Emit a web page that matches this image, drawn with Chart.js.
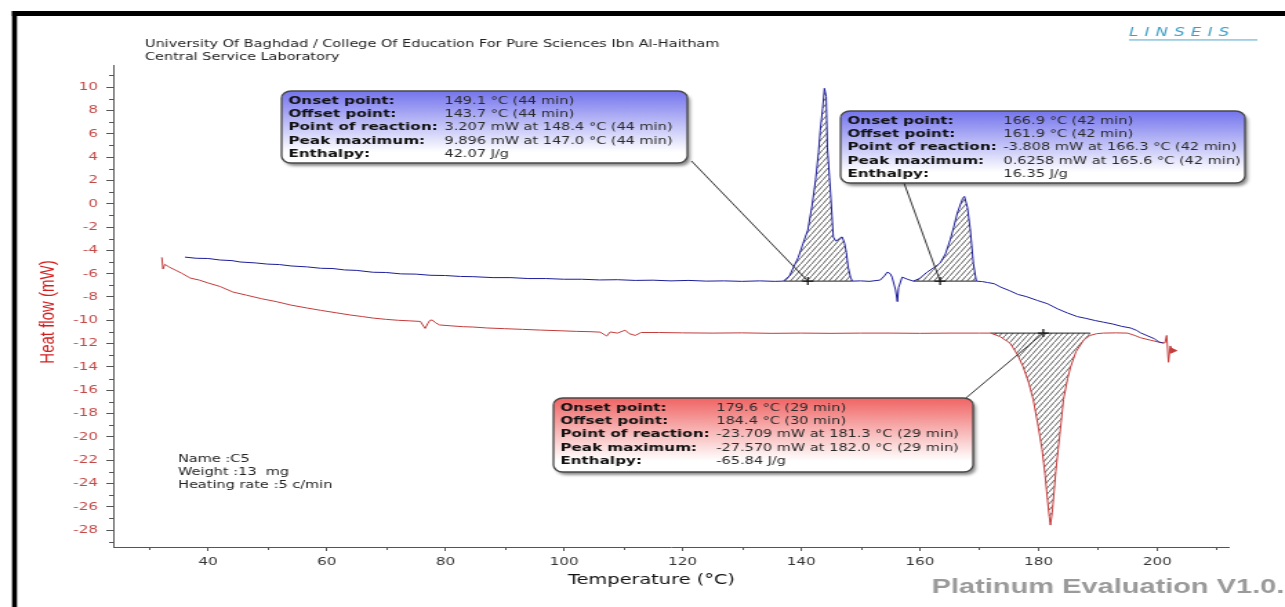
<!DOCTYPE html>
<html>
<head>
<meta charset="utf-8">
<title>DSC - C5</title>
<script src="https://cdn.jsdelivr.net/npm/chart.js@4.4.1/dist/chart.umd.min.js"></script>
<style>
  html, body { margin: 0; padding: 0; background: #fff; overflow: hidden; }
  /* report is laid out at 931px and stretched to the 1285px page width */
  #frame { width: 931px; height: 607px; transform: scaleX(1.3802); transform-origin: 0 0; }
  canvas { display: block; }
</style>
</head>
<body>
<div id="frame"><canvas id="dsc" width="931" height="607"></canvas></div>
<script>
// axis ticks
const xTicks = [40, 60, 80, 100, 120, 140, 160, 180, 200];
const xMinorTicks = [30, 50, 70, 90, 110, 130, 150, 170, 190, 210];
const yTicks = [10, 8, 6, 4, 2, 0, -2, -4, -6, -8, -10, -12, -14, -16, -18, -20, -22, -24, -26, -28];
const yMinorTicks = [11, 9, 7, 5, 3, 1, -1, -3, -5, -7, -9, -11, -13, -15, -17, -19, -21, -23, -25, -27, -29];

// blue run: temperature (°C) / heat flow (mW)
const blueTemp = [
  36.1, 38, 40, 42, 44, 45.4, 48, 50, 52, 54, 56.7, 59, 61, 63, 65, 67.8, 70, 72.5, 75, 77.5,
  80, 82.5, 84.7, 88, 91, 94, 97, 100, 103, 106, 109, 112, 115, 118, 121, 124, 127, 130, 133, 135.5,
  137.0, 138.0, 138.7, 139.5, 140.3, 141.1, 141.8, 142.4, 142.9, 143.2, 143.6, 143.9, 144.2, 144.4, 144.9, 145.4, 145.8, 146.2, 146.6, 146.9,
  147.3, 147.6, 147.9, 148.3, 148.6, 150, 151.5, 153.3, 154.0, 154.5, 155.0, 155.3, 155.9, 156.2, 156.4, 157.0, 158.0, 158.9,
  160.0, 161.2, 162.3, 163.4, 164.3, 165.1, 165.7, 166.3, 167.2, 167.5, 168.0, 168.5, 169.0, 169.5,
  170.5, 171.4, 172.5, 173.6, 175.2, 176.5, 178, 179.8, 181.5, 183.2, 184.9, 186.5, 188, 189.5, 190.9, 192.5,
  194, 195.5, 196.5, 197.2, 198.5, 199.5, 200.3, 201.0
];
const blueFlow = [
  -4.58, -4.68, -4.70, -4.83, -4.88, -5.00, -5.08, -5.18, -5.22, -5.34, -5.42, -5.54, -5.56, -5.68, -5.72, -5.88, -5.90, -6.02, -6.04, -6.14,
  -6.16, -6.24, -6.26, -6.34, -6.34, -6.42, -6.42, -6.48, -6.48, -6.54, -6.52, -6.58, -6.56, -6.62, -6.58, -6.64, -6.62, -6.66, -6.62, -6.66,
  -6.64, -6.2, -5.44, -4.6, -3.4, -2.26, -0.2, 2.0, 4.4, 6.3, 8.2, 9.896, 9.2, 4.85, 1.17, -2.86, -3.2, -3.1, -2.9, -2.86,
  -3.4, -4.2, -5.44, -6.3, -6.64, -6.62, -6.66, -6.55, -6.2, -5.87, -6.0, -6.3, -7.4, -8.4, -7.2, -6.3, -6.5, -6.64,
  -6.4, -5.87, -5.5, -5.1, -4.3, -3.1, -2.0, -0.8, 0.45, 0.6258, -0.3, -2.26, -5.1, -6.64,
  -6.68, -6.76, -6.86, -7.15, -7.48, -7.78, -7.98, -8.30, -8.58, -9.02, -9.38, -9.68, -9.84, -10.02, -10.16, -10.32,
  -10.52, -10.66, -10.86, -11.08, -11.36, -11.58, -11.86, -11.96
];

// red run: temperature (°C) / heat flow (mW)
const redTemp = [
  32.2, 32.4, 32.7, 33.5, 34.5, 35.5, 37.0, 38.5, 40, 42, 44.2, 46.5, 49, 51.5, 54, 56.7, 59, 61.5, 64, 66,
  67.8, 70, 72, 74, 75.8, 76.3, 76.6, 77.0, 77.4, 77.8, 78.3, 79, 81, 83, 84.7, 87, 90, 93, 96, 99.4,
  102, 104.5, 106.1, 107.2, 107.8, 109, 110.3, 111, 112, 113, 116, 120, 125, 130, 135, 140, 145, 150, 155, 160,
  165, 170, 171.9, 173.5, 175.2, 176.5, 177.4, 178.3, 179.1, 179.9, 180.6, 181.1, 181.5, 181.8, 182.0, 182.3, 182.5, 182.9, 183.3, 183.8,
  184.2, 184.9, 185.4, 186.3, 187.6, 188.7, 189.8, 190.9, 193, 195.0, 196.2, 197.2, 198.8, 200.5, 201.3, 201.6, 201.9, 202.2, 202.6
];
const redFlow = [
  -4.6, -5.6, -5.2, -5.45, -5.7, -5.95, -6.38, -6.55, -6.8, -7.1, -7.58, -7.85, -8.15, -8.4, -8.7, -8.95, -9.15, -9.35, -9.55, -9.68,
  -9.81, -9.92, -10.0, -10.05, -10.1, -10.5, -10.7, -10.3, -10.0, -9.98, -10.2, -10.4, -10.48, -10.55, -10.58, -10.66, -10.72, -10.78, -10.84, -10.9,
  -10.95, -10.98, -11.02, -11.35, -11.0, -11.1, -10.85, -11.15, -11.3, -11.05, -11.05, -11.08, -11.1, -11.08, -11.12, -11.1, -11.12, -11.1, -11.1, -11.12,
  -11.1, -11.1, -11.1, -11.4, -11.96, -13.0, -14.0, -15.3, -16.8, -19.0, -21.1, -23.3, -25.4, -26.8, -27.57, -26.5, -25.4, -23.0, -21.1, -18.8,
  -16.8, -15.0, -14.0, -12.7, -11.7, -11.3, -11.15, -11.1, -11.08, -11.1, -11.3, -11.5, -11.7, -11.9, -11.95, -11.3, -13.6, -12.2, -12.6
];

// integrated peaks: [from, to] in °C and the baseline they are integrated against (mW)
const bluePeaks = [[137.0, 148.6], [158.9, 169.5]];
const blueBase = -6.64;
const redPeaks = [[171.9, 188.7]];
const redBase = -11.1;

// reaction markers on the baselines
const markerTemp = [141.1, 163.4, 180.8];
const markerFlow = [blueBase, blueBase, redBase];

// evaluation results
const peakFields = ['Onset point:', 'Offset point:', 'Point of reaction:', 'Peak maximum:', 'Enthalpy:'];
const peak1Text = ['149.1 °C (44 min)', '143.7 °C (44 min)', '3.207 mW at 148.4 °C (44 min)', '9.896 mW at 147.0 °C (44 min)', '42.07 J/g'];
const peak2Text = ['166.9 °C (42 min)', '161.9 °C (42 min)', '-3.808 mW at 166.3 °C (42 min)', '0.6258 mW at 165.6 °C (42 min)', '16.35 J/g'];
const peak3Text = ['179.6 °C (29 min)', '184.4 °C (30 min)', '-23.709 mW at 181.3 °C (29 min)', '-27.570 mW at 182.0 °C (29 min)', '-65.84 J/g'];

const headerLines = ['University Of Baghdad / College Of Education For Pure Sciences Ibn Al-Haitham', 'Central Service Laboratory'];
const sampleLines = ['Name :C5', 'Weight :13  mg', 'Heating rate :5 c/min'];

const BLUE = '#1c1c9a';
const RED = '#c43a3a';

const canvas = document.getElementById('dsc');
const ctx = canvas.getContext('2d');

function toPoints(xs, ys) {
  return xs.map((x, i) => ({ x: x, y: ys[i] }));
}

function slice(xs, ys, from, to) {
  return toPoints(xs, ys).filter(p => p.x >= from && p.x <= to);
}

// diagonal hatching used inside the integrated areas
function makeHatch() {
  const c = document.createElement('canvas');
  c.width = 4;
  c.height = 6;
  const g = c.getContext('2d');
  g.strokeStyle = '#3a3a3a';
  g.lineWidth = 0.8;
  g.beginPath();
  g.moveTo(-1, 7.5);
  g.lineTo(5, -1.5);
  g.stroke();
  return ctx.createPattern(c, 'repeat');
}
const hatch = makeHatch();

const datasets = [
  {
    label: 'markers',
    data: toPoints(markerTemp, markerFlow),
    showLine: false,
    pointStyle: 'cross',
    pointRadius: 4,
    pointBorderColor: '#111',
    pointBorderWidth: 1.2,
    order: 0
  },
  {
    label: 'C5 blue',
    data: toPoints(blueTemp, blueFlow),
    borderColor: BLUE,
    borderWidth: 1,
    pointRadius: 0,
    fill: false,
    order: 1
  },
  {
    label: 'C5 red',
    data: toPoints(redTemp, redFlow),
    borderColor: RED,
    borderWidth: 1,
    pointRadius: c => (c.dataIndex === redTemp.length - 1 ? 3 : 0),
    pointStyle: 'triangle',
    rotation: 90,
    pointBackgroundColor: RED,
    pointBorderColor: RED,
    fill: false,
    order: 1
  }
];

bluePeaks.concat(redPeaks).forEach((r, i) => {
  const isBlue = i < bluePeaks.length;
  const base = isBlue ? blueBase : redBase;
  datasets.push({
    label: 'area ' + (i + 1),
    data: isBlue ? slice(blueTemp, blueFlow, r[0], r[1]) : slice(redTemp, redFlow, r[0], r[1]),
    borderWidth: 0,
    borderColor: 'transparent',
    pointRadius: 0,
    backgroundColor: hatch,
    fill: { value: base },
    order: 3
  });
  datasets.push({
    label: 'baseline ' + (i + 1),
    data: [{ x: r[0], y: base }, { x: r[1], y: base }],
    borderColor: '#222',
    borderWidth: 1,
    pointRadius: 0,
    fill: false,
    order: 2
  });
});

// result boxes, placed in report coordinates
const boxes = [
  { x: 204, y: 91, w: 294, h: 72, ax: 501, ay: 161, marker: 0, top: '#7474ee', text: peak1Text },
  { x: 609, y: 111, w: 293, h: 72, ax: 655, ay: 183, marker: 1, top: '#7474ee', text: peak2Text },
  { x: 401, y: 398, w: 304, h: 74, ax: 699, ay: 399, marker: 2, top: '#f06464', text: peak3Text }
];

function drawBox(c, b, mx, my) {
  c.save();
  c.strokeStyle = '#333';
  c.lineWidth = 1;
  c.beginPath();
  c.moveTo(b.ax, b.ay);
  c.lineTo(mx, my);
  c.stroke();

  const g = c.createLinearGradient(0, b.y, 0, b.y + b.h);
  g.addColorStop(0, b.top);
  g.addColorStop(0.85, '#ffffff');
  c.shadowColor = 'rgba(0,0,0,0.45)';
  c.shadowOffsetX = 2;
  c.shadowOffsetY = 3;
  c.shadowBlur = 3;
  c.fillStyle = g;
  c.beginPath();
  c.roundRect(b.x, b.y, b.w, b.h, 7);
  c.fill();
  c.shadowColor = 'transparent';
  c.strokeStyle = '#484848';
  c.lineWidth = 1.3;
  c.stroke();

  c.textBaseline = 'middle';
  c.textAlign = 'left';
  peakFields.forEach((f, i) => {
    const ty = b.y + 10 + i * 13.3;
    c.font = 'bold 11px "DejaVu Sans"';
    c.fillStyle = '#111';
    c.fillText(f, b.x + 5, ty);
    c.font = '10.5px "DejaVu Sans"';
    c.fillStyle = '#2a2a2a';
    c.fillText(b.text[i], b.x + 118, ty);
  });
  c.restore();
}

const reportPlugin = {
  id: 'report',
  afterDraw(chart) {
    const c = chart.ctx;
    const xs = chart.scales.x;
    const ys = chart.scales.y;
    const area = chart.chartArea;

    c.save();
    // page frame
    c.fillStyle = '#000';
    c.fillRect(8.7, 11, 931, 5);
    c.fillRect(8.7, 11, 3.6, 600);

    // minor ticks
    c.strokeStyle = '#555';
    c.lineWidth = 1;
    c.beginPath();
    yMinorTicks.forEach(v => {
      const py = Math.round(ys.getPixelForValue(v)) + 0.5;
      c.moveTo(area.left - 3, py);
      c.lineTo(area.left, py);
    });
    xMinorTicks.forEach(v => {
      const px = Math.round(xs.getPixelForValue(v)) + 0.5;
      c.moveTo(px, area.bottom);
      c.lineTo(px, area.bottom + 3);
    });
    c.stroke();

    // header
    c.fillStyle = '#222';
    c.textBaseline = 'middle';
    c.textAlign = 'left';
    c.font = '10.5px "DejaVu Sans"';
    c.fillText(headerLines[0], 105, 44);
    c.fillText(headerLines[1], 105, 57);

    // sample info
    c.font = '10.5px "DejaVu Sans"';
    sampleLines.forEach((s, i) => c.fillText(s, 129, 459 + i * 13));

    // maker logo
    c.fillStyle = '#3a9fc6';
    c.font = 'italic 12px "DejaVu Sans"';
    c.letterSpacing = '4.5px';
    c.fillText('LINSEIS', 818, 33);
    c.letterSpacing = '0px';
    c.fillRect(818, 39.5, 93, 0.9);

    // axis titles
    c.fillStyle = '#111';
    c.textAlign = 'center';
    c.font = '14px "DejaVu Sans"';
    c.fillText('Temperature (°C)', 472, 580);

    c.save();
    c.translate(35, 312);
    c.rotate(-Math.PI / 2);
    c.fillStyle = '#d41e1e';
    c.font = '15px "Liberation Sans"';
    c.fillText('Heat flow (mW)', 0, 0);
    c.restore();

    // software tag, runs off the right edge of the page
    c.textAlign = 'left';
    c.fillStyle = '#9a9a9a';
    c.font = 'bold 21px "Liberation Sans"';
    c.fillText('Platinum Evaluation V1.0.3', 675, 587);
    c.restore();

    boxes.forEach(b => {
      const mx = xs.getPixelForValue(markerTemp[b.marker]);
      const my = ys.getPixelForValue(markerFlow[b.marker]);
      drawBox(c, b, mx, my);
    });
  }
};

new Chart(ctx, {
  type: 'line',
  data: { datasets: datasets },
  options: {
    responsive: false,
    animation: false,
    devicePixelRatio: 1,
    layout: { padding: { top: 65, right: 41, left: 0, bottom: 0 } },
    plugins: {
      legend: { display: false },
      tooltip: { enabled: false }
    },
    elements: { line: { tension: 0 } },
    scales: {
      x: {
        type: 'linear',
        min: 24,
        max: 212,
        afterFit: s => { s.height = 60; },
        afterBuildTicks: s => { s.ticks = xTicks.map(v => ({ value: v })); },
        ticks: {
          color: '#333',
          font: { family: 'DejaVu Sans', size: 11 },
          padding: 5,
          maxRotation: 0
        },
        grid: { drawOnChartArea: false, drawTicks: true, tickLength: 4, tickColor: '#555' },
        border: { display: true, color: '#555', width: 1 }
      },
      y: {
        type: 'linear',
        min: -29.45,
        max: 11.9,
        afterFit: s => { s.width = 82; },
        afterBuildTicks: s => { s.ticks = yTicks.map(v => ({ value: v })); },
        ticks: {
          color: '#c24a48',
          font: { family: 'DejaVu Sans', size: 11 },
          padding: 6
        },
        grid: { drawOnChartArea: false, drawTicks: true, tickLength: 5, tickColor: '#555' },
        border: { display: true, color: '#555', width: 1 }
      }
    }
  },
  plugins: [reportPlugin]
});
</script>
</body>
</html>
